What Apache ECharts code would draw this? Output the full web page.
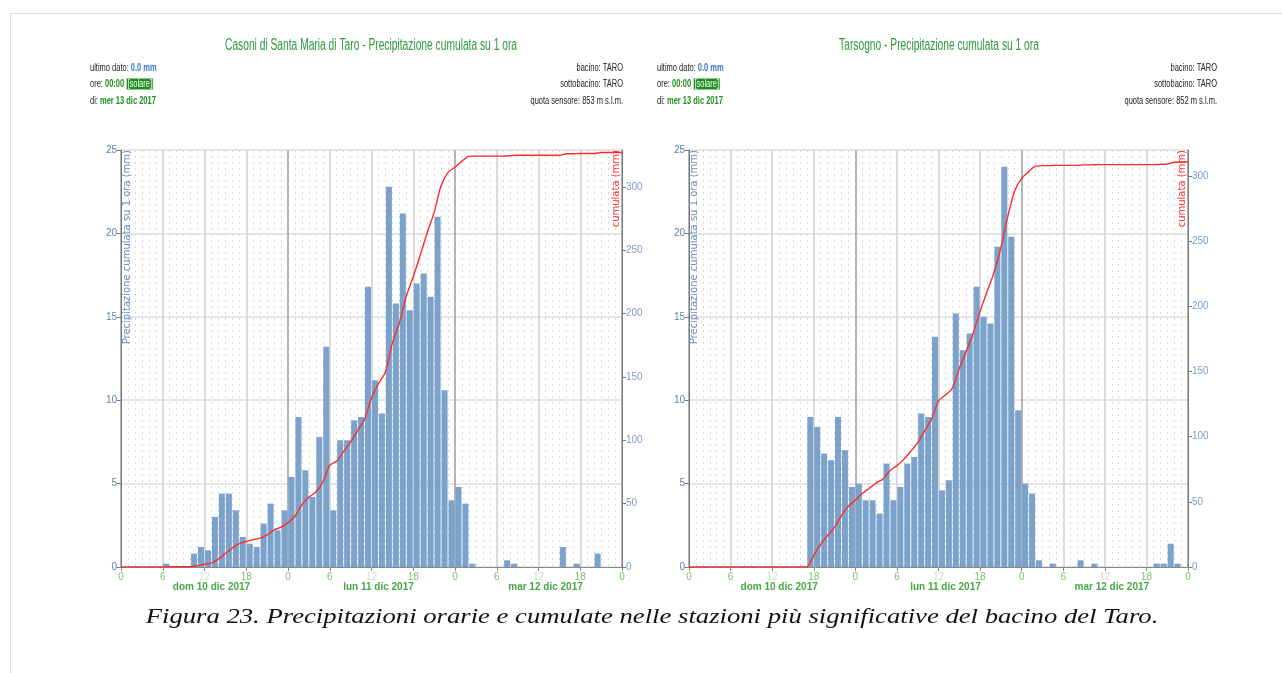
<!DOCTYPE html>
<html>
<head>
<meta charset="utf-8">
<script src="https://cdn.jsdelivr.net/npm/echarts@6/dist/echarts.min.js"></script>
<style>
    html, body { margin: 0; padding: 0; background: #fff; }
    #frame { position: absolute; left: 10px; top: 13px; width: 1272px; height: 660px; border-top: 1px solid #ddd; border-left: 1px solid #ddd; }
    #chart { position: absolute; left: 0; top: 0; width: 1282px; height: 673px; }
</style>
</head>
<body>
<div id="frame"></div>
<div id="chart"></div>
<script>
// dati orari (mm), 72 ore dal 10/12 00:00
var casoniRain = [
    0, 0, 0, 0, 0, 0, 0.2, 0, 0, 0, 0.8, 1.2,
    1.0, 3.0, 4.4, 4.4, 3.4, 1.8, 1.4, 1.2, 2.6, 3.8, 2.2, 3.4,
    5.4, 9.0, 5.8, 4.2, 7.8, 13.2, 3.4, 7.6, 7.6, 8.8, 9.0, 16.8,
    11.2, 9.2, 22.8, 15.8, 21.2, 15.4, 17.0, 17.6, 16.2, 21.0, 10.6, 4.0,
    4.8, 3.8, 0.2, 0, 0, 0, 0, 0.4, 0.2, 0, 0, 0,
    0, 0, 0, 1.2, 0, 0.2, 0, 0, 0.8, 0, 0, 0
];
var tarsognoRain = [
    0, 0, 0, 0, 0, 0, 0, 0, 0, 0, 0, 0,
    0, 0, 0, 0, 0, 9.0, 8.4, 6.8, 6.4, 9.0, 7.0, 4.8,
    5.0, 4.0, 4.0, 3.2, 6.2, 4.0, 4.8, 6.2, 6.6, 9.2, 9.0, 13.8,
    4.6, 5.2, 15.2, 13.0, 14.0, 16.8, 15.0, 14.6, 19.2, 24.0, 19.8, 9.4,
    5.0, 4.4, 0.4, 0, 0.2, 0, 0, 0, 0.4, 0, 0.2, 0,
    0, 0, 0, 0, 0, 0, 0, 0.2, 0.2, 1.4, 0.2, 0
];
var dayLabels = ['dom 10 dic 2017', 'lun 11 dic 2017', 'mar 12 dic 2017'];
var stationNames = ['Casoni di Santa Maria di Taro', 'Tarsogno'];
var sensorHeights = [853, 852];
var cumMax = [329, 320];

var sans = "'Liberation Sans', Arial, sans-serif";

// barre: centro dell'ora
function barPoints(arr) {
    var out = [];
    for (var h = 0; h < arr.length; h++) {
        if (arr[h] > 0) out.push([h + 0.5, arr[h]]);
    }
    return out;
}
// cumulata: somma a fine di ogni ora
function cumPoints(arr) {
    var out = [[0, 0]];
    var s = 0;
    for (var h = 0; h < arr.length; h++) {
        s += arr[h];
        out.push([h + 1, Math.round(s * 10) / 10]);
    }
    return out;
}

function xAxisCfg(idx) {
    return {
        type: 'value', gridIndex: idx, min: 0, max: 72, interval: 6,
        axisLine: { lineStyle: { color: '#888' } },
        axisTick: { length: 4, lineStyle: { color: '#888' } },
        axisLabel: {
            margin: 5, fontSize: 10, fontFamily: sans, color: '#7cc46c',
            formatter: function (v) {
                if (v % 24 === 12) return '{f|12}\n{d|' + dayLabels[Math.floor(v / 24)] + '}';
                return '{h|' + (v % 24) + '}';
            },
            rich: {
                h: { color: '#79c368', fontSize: 10, fontFamily: sans, lineHeight: 10 },
                f: { color: '#c4e6bc', fontSize: 10, fontFamily: sans, lineHeight: 10 },
                d: { color: '#45a845', fontSize: 10, fontWeight: 'bold', fontFamily: sans, lineHeight: 11, padding: [0, 0, 0, 14] }
            }
        },
        splitLine: { show: true, lineStyle: { color: ['#9c9c9c', '#cfcfcf', '#cfcfcf', '#cfcfcf'], width: 1.5 } },
        minorTick: { show: false, splitNumber: 6 },
        minorSplitLine: { show: true, lineStyle: { color: '#d8d8d8', width: 1, type: [2, 4] } }
    };
}
function rainAxisCfg(idx) {
    return {
        type: 'value', gridIndex: idx, position: 'left', min: 0, max: 25, interval: 5,
        axisLine: { show: true, lineStyle: { color: '#777' } },
        axisTick: { show: true, length: 4, lineStyle: { color: '#777' } },
        axisLabel: { margin: 4, fontSize: 10, fontFamily: sans, color: '#5d82b4' },
        splitLine: { show: true, lineStyle: { color: '#dcdcdc', width: 1.5 } }
    };
}
function cumAxisCfg(idx) {
    return {
        type: 'value', gridIndex: idx, position: 'right', min: 0, max: cumMax[idx], interval: 50,
        axisLine: { show: true, lineStyle: { color: '#777' } },
        axisTick: { show: true, length: 4, lineStyle: { color: '#777' } },
        axisLabel: { margin: 4, fontSize: 10, fontFamily: sans, color: '#7b9cc8', showMaxLabel: false },
        splitLine: { show: false }
    };
}
function barSeries(idx, arr) {
    return {
        type: 'bar', xAxisIndex: idx, yAxisIndex: idx * 2, barWidth: 6,
        itemStyle: { color: '#7ba2ca' }, data: barPoints(arr), z: 2
    };
}
function lineSeries(idx, arr) {
    return {
        type: 'line', xAxisIndex: idx, yAxisIndex: idx * 2 + 1, showSymbol: false, smooth: 0.3,
        lineStyle: { color: '#ff2b2b', width: 1.4 }, data: cumPoints(arr), z: 5
    };
}

// testi di intestazione (compressi in orizzontale come nell'originale)
function headerTexts(x0, xr, xt, idx) {
    var key = { fontSize: 10, fontFamily: sans, fill: '#222' };
    var green = { fontSize: 10, fontFamily: sans, fill: '#1f8f1f', fontWeight: 'bold' };
    var sx = 0.75;
    return [
        { type: 'text', x: xt, y: 46, scaleX: 0.64, style: { text: stationNames[idx] + ' - Precipitazione cumulata su 1 ora', fill: '#2e9a3c', font: '16px ' + sans, textAlign: 'center', textVerticalAlign: 'middle' } },
        { type: 'text', x: x0, y: 68, scaleX: sx, style: { text: '{k|ultimo dato: }{b|0.0 mm}', textVerticalAlign: 'middle', rich: { k: key, b: { fontSize: 10, fontFamily: sans, fill: '#3a78c2', fontWeight: 'bold' } } } },
        { type: 'text', x: x0, y: 84, scaleX: sx, style: { text: '{k|ore: }{g|00:00} {s|[solare]}', textVerticalAlign: 'middle', rich: { k: key, g: green, s: { fontSize: 10, fontFamily: sans, fill: '#fff', backgroundColor: '#1e8e1e', padding: [1, 1, 0, 1] } } } },
        { type: 'text', x: x0, y: 101, scaleX: sx, style: { text: '{k|di: }{g|mer 13 dic 2017}', textVerticalAlign: 'middle', rich: { k: key, g: green } } },
        { type: 'text', x: xr, y: 68, scaleX: sx, style: { text: 'bacino: TARO', fill: '#222', font: '10px ' + sans, textAlign: 'right', textVerticalAlign: 'middle' } },
        { type: 'text', x: xr, y: 84, scaleX: sx, style: { text: 'sottobacino: TARO', fill: '#222', font: '10px ' + sans, textAlign: 'right', textVerticalAlign: 'middle' } },
        { type: 'text', x: xr, y: 101, scaleX: sx, style: { text: 'quota sensore: ' + sensorHeights[idx] + ' m s.l.m.', fill: '#222', font: '10px ' + sans, textAlign: 'right', textVerticalAlign: 'middle' } }
    ];
}
function axisNames(xl, xr) {
    return [
        { type: 'text', x: xl, y: 150, rotation: Math.PI / 2, z: 10, style: { text: 'Precipitazione cumulata su 1 ora (mm)', fill: '#6a8dbb', font: '10px DejaVu Sans', textAlign: 'right', textVerticalAlign: 'middle' } },
        { type: 'text', x: xr, y: 150, rotation: Math.PI / 2, z: 10, style: { text: 'cumulata (mm)', fill: '#ff3030', font: '10px DejaVu Sans', textAlign: 'right', textVerticalAlign: 'middle' } }
    ];
}

var graphics = []
    .concat(headerTexts(90, 623, 371, 0))
    .concat(headerTexts(657, 1217, 939, 1))
    .concat(axisNames(127, 616))
    .concat(axisNames(694, 1182));
graphics.push({
    type: 'text', x: 652, y: 617, scaleX: 1.27,
    style: { text: 'Figura 23. Precipitazioni orarie e cumulate nelle stazioni più significative del bacino del Taro.', fill: '#111', font: "italic 21px 'Liberation Serif'", textAlign: 'center', textVerticalAlign: 'middle' }
});

var option = {
    animation: false,
    grid: [
        { left: 121, top: 150, width: 501, height: 417, outerBoundsMode: 'none' },
        { left: 689, top: 150, width: 499, height: 417, outerBoundsMode: 'none' }
    ],
    xAxis: [xAxisCfg(0), xAxisCfg(1)],
    yAxis: [rainAxisCfg(0), cumAxisCfg(0), rainAxisCfg(1), cumAxisCfg(1)],
    series: [
        barSeries(0, casoniRain), lineSeries(0, casoniRain),
        barSeries(1, tarsognoRain), lineSeries(1, tarsognoRain)
    ],
    graphic: graphics
};

window.onload = function () {
    var chart = echarts.init(document.getElementById('chart'));
    chart.setOption(option);
};
</script>
</body>
</html>
